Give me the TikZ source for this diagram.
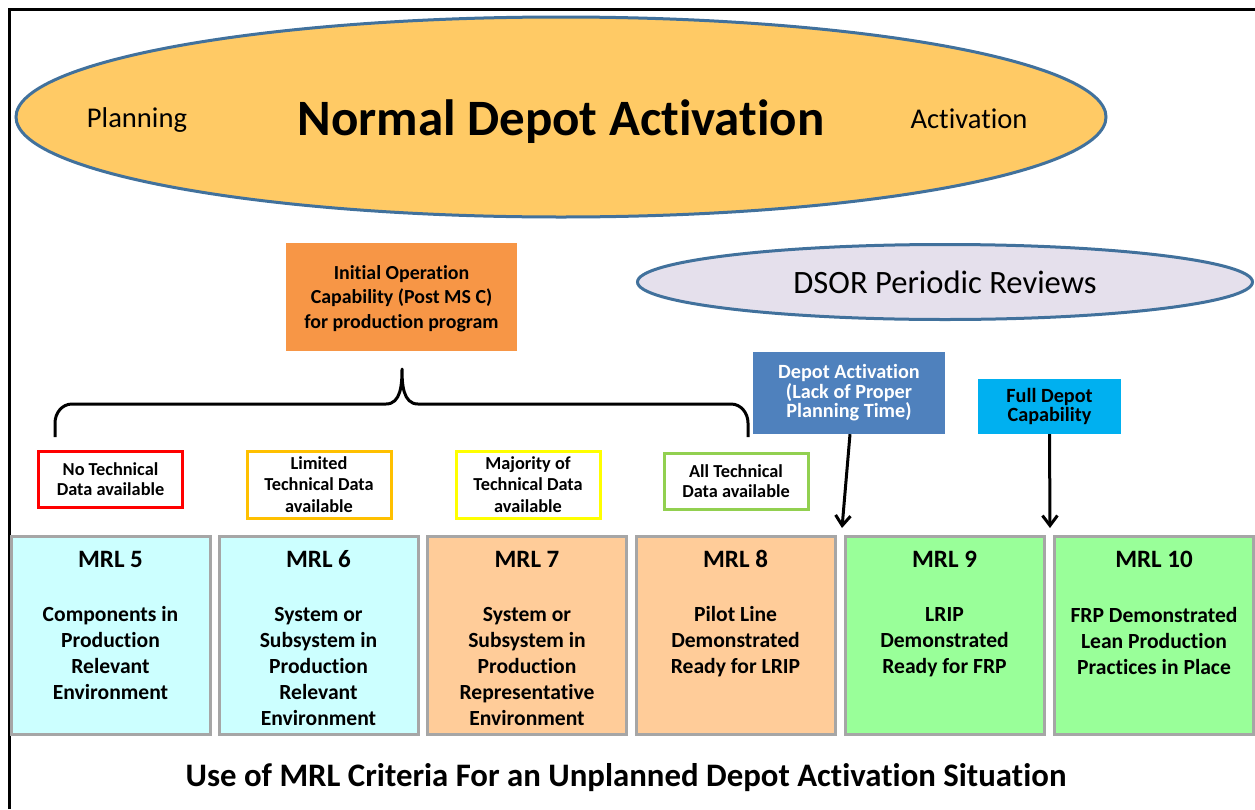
\documentclass[tikz,border=0pt]{standalone}
\usepackage{fontspec}
\setmainfont{Carlito}[Ligatures=NoCommon]
\usetikzlibrary{arrows.meta,shapes.geometric}
\definecolor{ellfill}{HTML}{FFCA65}
\definecolor{ellborder}{HTML}{41719C}
\definecolor{lav}{HTML}{E5E0EC}
\definecolor{iocfill}{HTML}{F79646}
\definecolor{dafill}{HTML}{4F81BD}
\definecolor{fdfill}{HTML}{00B0F0}
\definecolor{mrlcyan}{HTML}{CCFFFF}
\definecolor{mrlpeach}{HTML}{FFCC99}
\definecolor{mrlgreen}{HTML}{99FF99}
\definecolor{mrlborder}{HTML}{A6A6A6}
\definecolor{cred}{HTML}{FF0000}
\definecolor{corange}{HTML}{FFC000}
\definecolor{cyellow}{HTML}{FFFF00}
\definecolor{cgreen}{HTML}{92D050}
\newcommand{\fs}[2]{\fontsize{#1}{#2}\selectfont}
\begin{document}
\begin{tikzpicture}[x=1pt,y=-1pt,
  bigell/.style={ellipse,draw=ellborder,line width=3,inner sep=0},
  filledbox/.style={rectangle,inner sep=0},
  tagbox/.style={rectangle,draw,line width=3,fill=white,inner sep=0,minimum width=144,minimum height=56},
  tagtext/.style={align=center,font=\bfseries\fs{18.3}{20}},
  mrlbox/.style={rectangle,draw=mrlborder,line width=3,inner sep=0,minimum width=199,minimum height=198},
  mrlhead/.style={font=\bfseries\fs{25}{26}},
  mrltext/.style={align=center,font=\bfseries\fs{21.6}{26}},
  arr/.style={line width=3,-{Straight Barb[length=10,width=15]}},
]
\useasboundingbox (0,0) rectangle (1255,809);
\fill[white] (0,0) rectangle (1255,809);
\coordinate (fb) at (9,809);
\coordinate (ftl) at (9,9);
\coordinate (ftr) at (1255,9);
\draw[line width=3] (fb) -- (ftl) -- (ftr);

% Top ellipse
\node[bigell,fill=ellfill,minimum width=1090,minimum height=200] (main) at (561,117) {};
\node[anchor=base,font=\fs{28.6}{30}] (plan) at (137,127) {Planning};
\node[anchor=base,font=\bfseries\fs{51}{52}] (title) at (561,135) {Normal Depot Activation};
\node[anchor=base,font=\fs{28.6}{30}] (act) at (969,128) {Activation};

% DSOR ellipse
\node[bigell,fill=lav,minimum width=615,minimum height=75] (dsor) at (945,282) {};
\node[anchor=base,font=\fs{32.6}{34}] (dsort) at (945,293) {DSOR Periodic Reviews};

% IOC box
\node[filledbox,fill=iocfill,minimum width=231,minimum height=108] (ioc) at (401.5,297) {};
\node[align=center,font=\bfseries\fs{19.9}{24.5}] (ioct) at (401.5,298.5) {Initial Operation\\Capability (Post MS C)\\for production program};

% Brace
\coordinate (bl) at (55,437);
\coordinate (br) at (748,437);
\coordinate (btip) at (402,369);
\draw[line width=3,line join=round] (bl) -- (55,423) to[out=90,in=180] (72,404) -- (386,404) to[out=0,in=-90] (btip)
  to[out=-90,in=180] (418,404) -- (731,404) to[out=0,in=90] (748,423) -- (br);

% Tag boxes
\node[tagbox,draw=cred] (t5) at (110.5,479) {};
\node[tagtext] at (t5) {No Technical\\Data available};
\node[tagbox,draw=corange,minimum height=67] (t6) at (319,484.5) {};
\node[tagtext,font=\bfseries\fs{18.3}{21.5}] at (t6) {Limited\\Technical Data\\available};
\node[tagbox,draw=cyellow,minimum height=67] (t7) at (528,484.5) {};
\node[tagtext,font=\bfseries\fs{18.3}{21.5}] at (t7) {Majority of\\Technical Data\\available};
\node[tagbox,draw=cgreen] (t8) at (736,481) {};
\node[tagtext] at (t8) {All Technical\\Data available};

% Depot activation boxes
\node[filledbox,fill=dafill,minimum width=192,minimum height=82] (da) at (849,393) {};
\node[align=center,text=white,font=\bfseries\fs{20.2}{19.5}] at (da) {Depot Activation\\(Lack of Proper\\Planning Time)};
\node[filledbox,fill=fdfill,minimum width=143,minimum height=55] (fd) at (1049.5,406.5) {};
\node[align=center,font=\bfseries\fs{20.2}{19}] at (fd) {Full Depot\\Capability};

% MRL boxes
\node[mrlbox,fill=mrlcyan] (m5) at (110.5,635) {};
\node[mrlbox,fill=mrlcyan] (m6) at (318.5,635) {};
\node[mrlbox,fill=mrlpeach] (m7) at (527,635) {};
\node[mrlbox,fill=mrlpeach] (m8) at (735.5,635) {};
\node[mrlbox,fill=mrlgreen] (m9) at (944.5,635) {};
\node[mrlbox,fill=mrlgreen] (m10) at (1154,635) {};

\node[mrlhead] at (110.5,559) {MRL 5};
\node[mrlhead] at (318.5,559) {MRL 6};
\node[mrlhead] at (527,559) {MRL 7};
\node[mrlhead] at (735.5,559) {MRL 8};
\node[mrlhead] at (944.5,559) {MRL 9};
\node[mrlhead] at (1154,559) {MRL 10};

\node[mrltext] at (110.5,653) {Components in\\Production\\Relevant\\Environment};
\node[mrltext] at (318.5,666) {System or\\Subsystem in\\Production\\Relevant\\Environment};
\node[mrltext] at (527,666) {System or\\Subsystem in\\Production\\Representative\\Environment};
\node[mrltext] at (735.5,642) {Pilot Line\\Demonstrated\\Ready for LRIP};
\node[mrltext] at (944.5,642) {LRIP\\Demonstrated\\Ready for FRP};
\node[mrltext] at (1154,641) {FRP Demonstrated\\Lean Production\\Practices in Place};

% Arrows
\coordinate (tip1) at (842,528);
\coordinate (tip2) at (1050,528);
\draw[arr] (da.south) ++(1,0) -- (tip1);
\draw[arr] (fd.south) -- (tip2);

% Bottom title
\node[anchor=base,font=\bfseries\fs{32.8}{34}] (bottom) at (626,786) {Use of MRL Criteria For an Unplanned Depot Activation Situation};
\end{tikzpicture}
\end{document}
